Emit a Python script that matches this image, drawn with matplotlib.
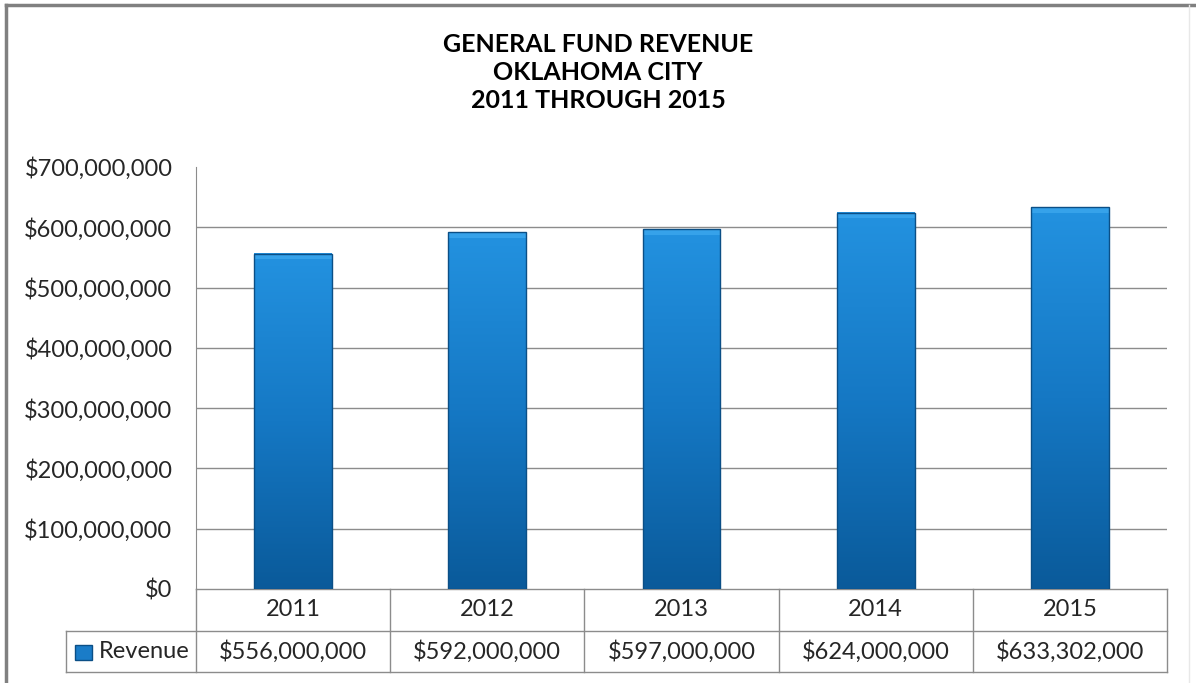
import numpy as np
import matplotlib
matplotlib.use('Agg')
import matplotlib.pyplot as plt
from matplotlib.colors import LinearSegmentedColormap
from matplotlib.patches import Rectangle
from matplotlib.lines import Line2D
import matplotlib.transforms as mtransforms

years = ['2011', '2012', '2013', '2014', '2015']
revenue = [556000000, 592000000, 597000000, 624000000, 633302000]
series_name = 'Revenue'
title_lines = ['GENERAL FUND REVENUE', 'OKLAHOMA CITY', '2011 THROUGH 2015']
yticks = [0, 100000000, 200000000, 300000000, 400000000, 500000000, 600000000, 700000000]

plt.rcParams['font.family'] = ['Lato', 'DejaVu Sans']
text_col = '#262626'
line_col = '#8c8c8c'
fs = 17

fig = plt.figure(figsize=(11.96, 6.83), dpi=100)
ax = fig.add_axes([196 / 1196, 94 / 683, 971 / 1196, 422 / 683])

# bars with a vertical gradient
cmap = LinearSegmentedColormap.from_list('bar', ['#0a5a9a', '#1578c4', '#2392e0'])
grad = np.linspace(0, 1, 256).reshape(-1, 1)
width = 0.4
for i, v in enumerate(revenue):
    ax.imshow(grad, cmap=cmap, origin='lower', aspect='auto',
              extent=[i - width / 2, i + width / 2, 0, v], zorder=3)
    # top bevel highlight
    ax.add_patch(Rectangle((i - width / 2, v - 9000000), width, 9000000,
                           facecolor='#36a2ea', edgecolor='none', zorder=4))
    ax.add_patch(Rectangle((i - width / 2, 0), width, v, fill=False,
                           edgecolor='#0b4f86', linewidth=1.0, zorder=5))

ax.set_xlim(-0.5, len(years) - 0.5)
ax.set_ylim(yticks[0], yticks[-1])

for t in yticks[1:-1]:
    ax.axhline(t, color=line_col, linewidth=1, zorder=1)

ax.set_yticks(yticks)
ax.set_yticklabels(['${:,.0f}'.format(t) for t in yticks], fontsize=fs, color=text_col)
ax.tick_params(axis='y', length=0, pad=17)
ax.set_xticks([])
for s in ['top', 'right', 'bottom']:
    ax.spines[s].set_visible(False)
ax.spines['left'].set_color(line_col)

# data table under the axis
tr = mtransforms.blended_transform_factory(ax.transData, ax.transAxes)
row1 = -0.0995
row2 = -0.1967
x0 = -0.5
x1 = len(years) - 0.5
leg_left = x0 - 130 / 971 * len(years)
kw = dict(transform=tr, color=line_col, linewidth=1, clip_on=False)
ax.add_line(Line2D([x0, x1], [0, 0], **kw))
ax.add_line(Line2D([leg_left, x1], [row1, row1], **kw))
ax.add_line(Line2D([leg_left, x1], [row2, row2], **kw))
ax.add_line(Line2D([leg_left, leg_left], [row1, row2], **kw))
for k in range(len(years) + 1):
    ax.add_line(Line2D([x0 + k, x0 + k], [0, row2], **kw))

for i, (y, v) in enumerate(zip(years, revenue)):
    ax.text(i, row1 / 2, y, transform=tr, ha='center', va='center',
            fontsize=fs, color=text_col)
    ax.text(i, (row1 + row2) / 2, '${:,.0f}'.format(v), transform=tr,
            ha='center', va='center', fontsize=fs, color=text_col)

ax.text(x0 - 0.035, (row1 + row2) / 2, series_name, transform=tr, ha='right',
        va='center', fontsize=fs, color=text_col)
fig.patches.append(Rectangle((75 / 1196, 1 - 660 / 683), 17 / 1196, 15 / 683,
                             transform=fig.transFigure, facecolor='#1a7cc8',
                             edgecolor='#0b4f86', linewidth=1))

# title
for k, line in enumerate(title_lines):
    fig.text(598 / 1196, 1 - (45 + 27.5 * k) / 683, line, ha='center', va='center',
             fontsize=18, fontweight='bold', color='#000000')

# outer frame
fig.add_artist(Line2D([6 / 1196, 6 / 1196], [0, 1 - 5 / 683], transform=fig.transFigure,
                      color='#808080', linewidth=2.5))
fig.add_artist(Line2D([6 / 1196, 1], [1 - 5 / 683, 1 - 5 / 683], transform=fig.transFigure,
                      color='#808080', linewidth=2.5))
fig.add_artist(Line2D([1189 / 1196, 1189 / 1196], [0, 1 - 5 / 683], transform=fig.transFigure,
                      color='#e8e8e8', linewidth=1))

fig.savefig('out.png', dpi=100)
